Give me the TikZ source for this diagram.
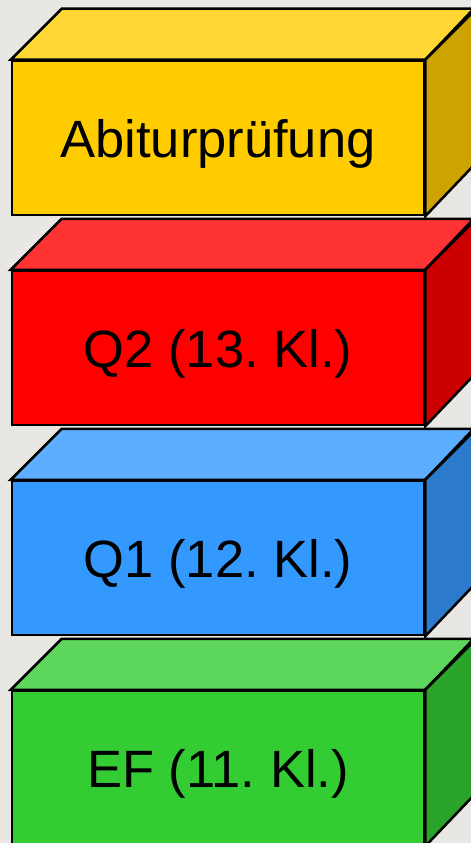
\documentclass[tikz,border=0pt]{standalone}
\usepackage{fontspec}
\setmainfont{Liberation Sans}
\frenchspacing
\definecolor{bg}{HTML}{E9E7E3}
\definecolor{yfront}{HTML}{FFCC00}
\definecolor{ytop}{HTML}{FFD633}
\definecolor{yside}{HTML}{CCA300}
\definecolor{rfront}{HTML}{FF0000}
\definecolor{rtop}{HTML}{FF3333}
\definecolor{rside}{HTML}{CC0000}
\definecolor{bfront}{HTML}{3399FF}
\definecolor{btop}{HTML}{5CADFF}
\definecolor{bside}{HTML}{2B7ACC}
\definecolor{gfront}{HTML}{33CC33}
\definecolor{gtop}{HTML}{5CD65C}
\definecolor{gside}{HTML}{29A329}
\begin{document}
\begin{tikzpicture}[x=1pt,y=-1pt,
  frontbox/.style={draw=black, line width=2.5pt, minimum width=412pt, minimum height=154pt,
    inner sep=0pt, text height=38pt, text depth=0pt, font=\fontsize{52.5}{60}\selectfont\frenchspacing, line join=miter},
  face/.style={draw=black, line width=2.5pt, line join=miter}]
\fill[bg] (0,0) rectangle (471,843);
\useasboundingbox (0,0) rectangle (471,843);
\begin{scope}
\clip (0,0) rectangle (471,843);
\foreach \n/\cy/\cf/\ct/\cs/\txt in {
  abi/138/yfront/ytop/yside/{Abiturprüfung},
  qz/348/rfront/rtop/rside/{Q2 (13. Kl.)},
  qe/558/bfront/btop/bside/{Q1 (12. Kl.)},
  ef/768/gfront/gtop/gside/{EF (11. Kl.)}}{
  \node[frontbox, fill=\cf] (\n) at (218,\cy) {\txt};
  \draw[face, fill=\ct] (\n.north west) -- ++(51,-51) -- ++(412,0) -- (\n.north east) -- cycle;
  \draw[face, fill=\cs] (\n.north east) -- ++(51,-51) -- ++(0,154) -- (\n.south east) -- cycle;
}
\end{scope}
\end{tikzpicture}
\end{document}
